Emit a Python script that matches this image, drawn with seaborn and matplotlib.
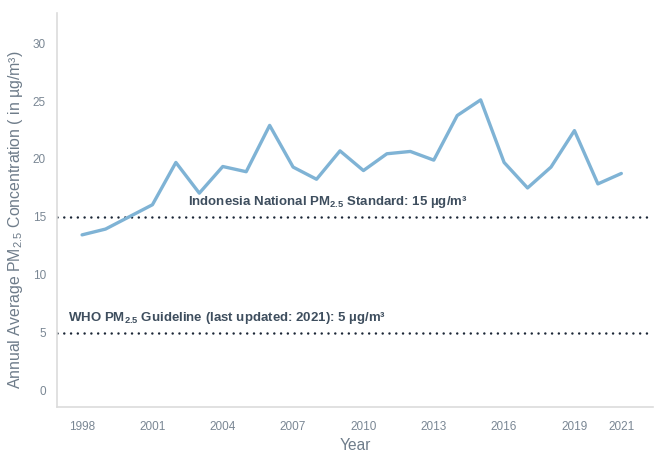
import matplotlib
matplotlib.use("Agg")
import matplotlib.pyplot as plt
import seaborn as sns
import pandas as pd

years = list(range(1998, 2022))
pm25 = [13.45, 13.95, 15.0, 16.05, 19.7, 17.05, 19.35, 18.9, 22.9, 19.3,
        18.25, 20.7, 19.0, 20.45, 20.65, 19.9, 23.75, 25.1, 19.7, 17.5,
        19.3, 22.45, 17.85, 18.75]
xticks = [1998, 2001, 2004, 2007, 2010, 2013, 2016, 2019, 2021]
yticks = [0, 5, 10, 15, 20, 25, 30]
national_std = 15
who_guideline = 5

sns.set_style("white")
plt.rcParams['font.family'] = ['Liberation Sans', 'DejaVu Sans']
plt.rcParams['mathtext.fontset'] = 'custom'
plt.rcParams['mathtext.rm'] = 'Liberation Sans'
plt.rcParams['mathtext.bf'] = 'Liberation Sans:bold'
plt.rcParams['mathtext.it'] = 'Liberation Sans:italic'

df = pd.DataFrame({"Year": years, "PM25": pm25})

fig = plt.figure(figsize=(6.56, 4.54), dpi=100)
ax = fig.add_axes([0.0869, 0.1042, 0.9085, 0.8672])

sns.lineplot(data=df, x="Year", y="PM25", ax=ax, color="#7fb3d5", linewidth=2.4)

dot_style = (0, (0.01, 2.7))
for v in (national_std, who_guideline):
    ax.axhline(v, color="#1b2636", linewidth=1.8, linestyle=dot_style,
               dash_capstyle="round", zorder=1)

txt_color = "#3e4e5e"
ax.text(2002.5, national_std + 0.6,
        r"Indonesia National PM$_{\mathbf{2.5}}$ Standard: 15 µg/m³",
        fontsize=9.5, fontweight="bold", color=txt_color, ha="left", va="bottom")
ax.text(1997.4, who_guideline + 0.6,
        r"WHO PM$_{\mathbf{2.5}}$ Guideline (last updated: 2021): 5 µg/m³",
        fontsize=9.5, fontweight="bold", color=txt_color, ha="left", va="bottom")

ax.set_xlim(1996.93, 2022.35)
ax.set_ylim(-1.38, 32.6)
ax.set_xticks(xticks)
ax.set_xticklabels([str(x) for x in xticks])
ax.set_yticks(yticks)

tick_color = "#7a8794"
ax.tick_params(axis="both", length=0, labelsize=8.5, labelcolor=tick_color)
ax.tick_params(axis="y", pad=8)
ax.tick_params(axis="x", pad=10)

ax.set_xlabel("Year", fontsize=11.2, color="#6e7c8a")
ax.set_ylabel(r"Annual Average PM$_{2.5}$ Concentration ( in µg/m³)",
              fontsize=11.4, color="#6e7c8a")
ax.xaxis.set_label_coords(0.5, -0.08)
ax.yaxis.set_label_coords(-0.054, 0.475)

for s in ("top", "right"):
    ax.spines[s].set_visible(False)
for s in ("left", "bottom"):
    ax.spines[s].set_color("#dcdcdc")
    ax.spines[s].set_linewidth(1.2)

fig.savefig("out.png", dpi=100)
